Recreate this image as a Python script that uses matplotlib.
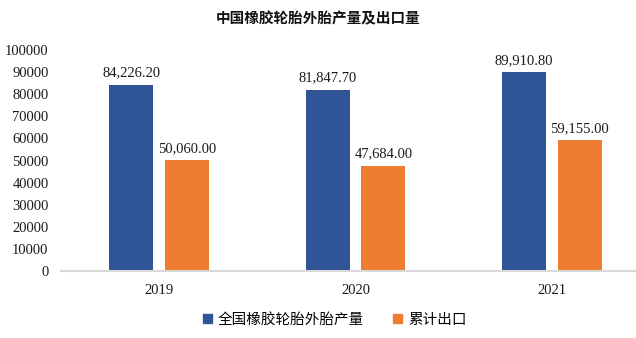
import numpy as np
import matplotlib.pyplot as plt
from matplotlib.patches import Patch

plt.rcParams['font.family'] = ['Liberation Serif', 'Noto Sans CJK SC']

# ==== data ====
years = ["2019", "2020", "2021"]
production = [84226.20, 81847.70, 89910.80]
exports = [50060.00, 47684.00, 59155.00]
series_names = ["全国橡胶轮胎外胎产量", "累计出口"]
title = "中国橡胶轮胎外胎产量及出口量"

BLUE = "#2F5597"
ORANGE = "#ED7D31"

fig = plt.figure(figsize=(6.36, 3.38), dpi=100)
ax = fig.add_axes([61 / 636, 1 - 271 / 338, (650 - 61) / 636, (271 - 50) / 338])

x = np.arange(len(years))
w = 0.224
off = 0.1425
b1 = ax.bar(x - off, production, w, color=BLUE)
b2 = ax.bar(x + off, exports, w, color=ORANGE)

for bars in (b1, b2):
    for r in bars:
        ax.annotate(f"{r.get_height():,.2f}", (r.get_x() + r.get_width() / 2, r.get_height()),
                    xytext=(0, 4), textcoords="offset points", ha="center", va="bottom",
                    fontsize=10.5, color="#1a1a1a")

ax.set_xlim(-0.5, 2.5)
ax.set_ylim(0, 100000)
ax.set_yticks(np.arange(0, 100001, 10000))
ax.set_xticks(x)
ax.set_xticklabels(years)
ax.tick_params(axis="both", length=0, labelsize=10.5, colors="#1a1a1a")
ax.tick_params(axis="x", pad=9)
ax.tick_params(axis="y", pad=9)

for s in ("top", "right", "left"):
    ax.spines[s].set_visible(False)
ax.spines["bottom"].set_color("#D9D9D9")
ax.spines["bottom"].set_linewidth(1.5)

fig.text(0.5, 1 - 18 / 338, title, ha="center", va="center", fontsize=10.5,
         fontweight="bold", family=["Noto Sans CJK SC"], color="#111111")

handles = [Patch(color=BLUE), Patch(color=ORANGE)]
fig.legend(handles, series_names, loc="center", bbox_to_anchor=(335 / 636, 1 - 320 / 338),
           ncol=2, frameon=False, handlelength=0.6, handleheight=0.6, handletextpad=0.4,
           columnspacing=2.0, prop={"family": ["Noto Sans CJK SC"], "size": 10.5})

fig.savefig("out.png", dpi=100)
